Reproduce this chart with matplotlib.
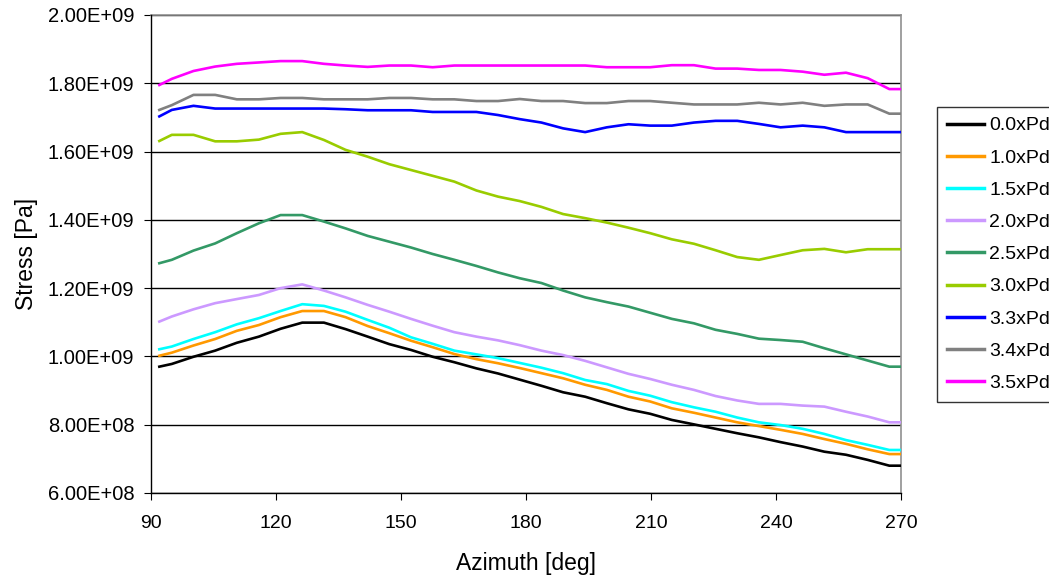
import matplotlib
matplotlib.use("Agg")
import matplotlib.pyplot as plt
from matplotlib.ticker import FuncFormatter, MultipleLocator

plt.rcParams['font.family'] = ['Liberation Sans', 'DejaVu Sans']

# azimuth [deg]
azimuth = [92, 95, 100.2, 105.4, 110.6, 115.9, 121.1, 126.3, 131.5, 136.7,
           142.0, 147.2, 152.4, 157.6, 162.8, 168.1, 173.3, 178.5, 183.7, 188.9,
           194.2, 199.4, 204.6, 209.8, 215.0, 220.3, 225.5, 230.7, 235.9, 241.1,
           246.4, 251.6, 256.8, 262.0, 267.2, 270.0]

# stress values, in units of 1e8 Pa
s_00 = [9.70, 9.78, 9.99, 10.17, 10.40, 10.58, 10.81, 10.99, 10.99, 10.80,
        10.58, 10.36, 10.19, 9.99, 9.83, 9.65, 9.50, 9.32, 9.14, 8.95,
        8.82, 8.63, 8.45, 8.32, 8.14, 8.01, 7.88, 7.75, 7.63, 7.49,
        7.36, 7.21, 7.12, 6.97, 6.80, 6.80]
s_10 = [10.02, 10.11, 10.32, 10.51, 10.75, 10.92, 11.15, 11.33, 11.33, 11.15,
        10.89, 10.68, 10.46, 10.27, 10.07, 9.92, 9.80, 9.66, 9.51, 9.36,
        9.17, 9.02, 8.82, 8.68, 8.48, 8.35, 8.21, 8.07, 7.96, 7.85,
        7.73, 7.58, 7.44, 7.28, 7.14, 7.14]
s_15 = [10.21, 10.29, 10.51, 10.71, 10.94, 11.12, 11.33, 11.53, 11.48, 11.31,
        11.07, 10.84, 10.56, 10.37, 10.17, 10.06, 9.95, 9.81, 9.67, 9.51,
        9.31, 9.19, 8.99, 8.85, 8.66, 8.51, 8.38, 8.21, 8.07, 7.99,
        7.88, 7.73, 7.55, 7.41, 7.26, 7.26]
s_20 = [11.02, 11.17, 11.38, 11.56, 11.68, 11.80, 12.00, 12.11, 11.93, 11.73,
        11.51, 11.31, 11.10, 10.90, 10.71, 10.58, 10.47, 10.33, 10.17, 10.04,
        9.87, 9.68, 9.49, 9.34, 9.17, 9.02, 8.84, 8.71, 8.61, 8.61,
        8.56, 8.53, 8.38, 8.24, 8.07, 8.07]
s_25 = [12.73, 12.83, 13.10, 13.31, 13.61, 13.90, 14.14, 14.14, 13.95, 13.75,
        13.53, 13.36, 13.19, 13.00, 12.83, 12.65, 12.46, 12.29, 12.15, 11.93,
        11.73, 11.59, 11.46, 11.28, 11.10, 10.97, 10.78, 10.66, 10.52, 10.48,
        10.43, 10.24, 10.06, 9.88, 9.70, 9.70]
s_30 = [16.31, 16.49, 16.49, 16.30, 16.30, 16.35, 16.52, 16.57, 16.34, 16.05,
        15.85, 15.63, 15.46, 15.29, 15.12, 14.86, 14.68, 14.55, 14.38, 14.17,
        14.05, 13.92, 13.77, 13.61, 13.43, 13.30, 13.11, 12.91, 12.83, 12.97,
        13.11, 13.15, 13.05, 13.14, 13.14, 13.14]
s_33 = [17.03, 17.22, 17.34, 17.26, 17.26, 17.26, 17.26, 17.26, 17.26, 17.24,
        17.21, 17.21, 17.21, 17.16, 17.16, 17.16, 17.07, 16.95, 16.85, 16.68,
        16.57, 16.71, 16.80, 16.76, 16.76, 16.85, 16.90, 16.90, 16.81, 16.71,
        16.76, 16.71, 16.57, 16.57, 16.57, 16.57]
s_34 = [17.22, 17.36, 17.66, 17.66, 17.53, 17.53, 17.57, 17.57, 17.53, 17.53,
        17.53, 17.57, 17.57, 17.53, 17.53, 17.48, 17.48, 17.54, 17.48, 17.48,
        17.42, 17.42, 17.48, 17.48, 17.43, 17.38, 17.38, 17.38, 17.43, 17.38,
        17.43, 17.34, 17.38, 17.38, 17.11, 17.11]
s_35 = [17.95, 18.13, 18.36, 18.49, 18.57, 18.61, 18.65, 18.65, 18.57, 18.52,
        18.48, 18.52, 18.52, 18.47, 18.52, 18.52, 18.52, 18.52, 18.52, 18.52,
        18.52, 18.47, 18.47, 18.47, 18.53, 18.53, 18.43, 18.43, 18.39, 18.39,
        18.34, 18.25, 18.31, 18.15, 17.83, 17.83]

labels = ['0.0xPd', '1.0xPd', '1.5xPd', '2.0xPd', '2.5xPd',
          '3.0xPd', '3.3xPd', '3.4xPd', '3.5xPd']
series = [s_00, s_10, s_15, s_20, s_25, s_30, s_33, s_34, s_35]
colors = ['#000000', '#FF9900', '#00FFFF', '#CC99FF', '#339966',
          '#99CC00', '#0000FF', '#808080', '#FF00FF']

W, H = 1049, 579
fig = plt.figure(figsize=(W / 100, H / 100), dpi=100)
# plot area in pixels: x 151..901, y 15..493
ax = fig.add_axes([151 / W, 1 - 493 / H, 750 / W, 478 / H])

for ys, lab, c in zip(series, labels, colors):
    ax.plot(azimuth, [v * 1e8 for v in ys], color=c, lw=1.9, label=lab,
            solid_joinstyle='round', zorder=3)

ax.set_xlim(90, 270)
ax.set_ylim(6e8, 2e9)
ax.xaxis.set_major_locator(MultipleLocator(30))
ax.yaxis.set_major_locator(MultipleLocator(2e8))
ax.yaxis.set_major_formatter(FuncFormatter(lambda v, p: f"{v:.2E}"))
ax.grid(axis='y', color='black', lw=1.0, zorder=1)

for side in ['top', 'right']:
    ax.spines[side].set_color('#909090')
    ax.spines[side].set_linewidth(1.2)
    ax.spines[side].set_zorder(2)
for side in ['left', 'bottom']:
    ax.spines[side].set_color('black')
    ax.spines[side].set_linewidth(1.0)

ax.tick_params(direction='out', length=5, width=0.8, colors='black')
ax.tick_params(axis='y', labelsize=14.5, pad=7)
ax.tick_params(axis='x', labelsize=14.0, pad=11)

ax.set_xlabel('Azimuth [deg]', fontsize=16.5, labelpad=14)
ax.set_ylabel('Stress [Pa]', fontsize=16.5, labelpad=7)

leg = fig.legend(loc='upper left', bbox_to_anchor=(937 / W, 1 - 107 / H),
                 borderaxespad=0, fontsize=14, frameon=True, fancybox=False,
                 edgecolor='black', handlelength=1.9, handletextpad=0.3,
                 labelspacing=0.75, borderpad=0.5)
leg.get_frame().set_linewidth(1.0)
for line in leg.get_lines():
    line.set_linewidth(2.5)

fig.savefig('out.png', dpi=100)
